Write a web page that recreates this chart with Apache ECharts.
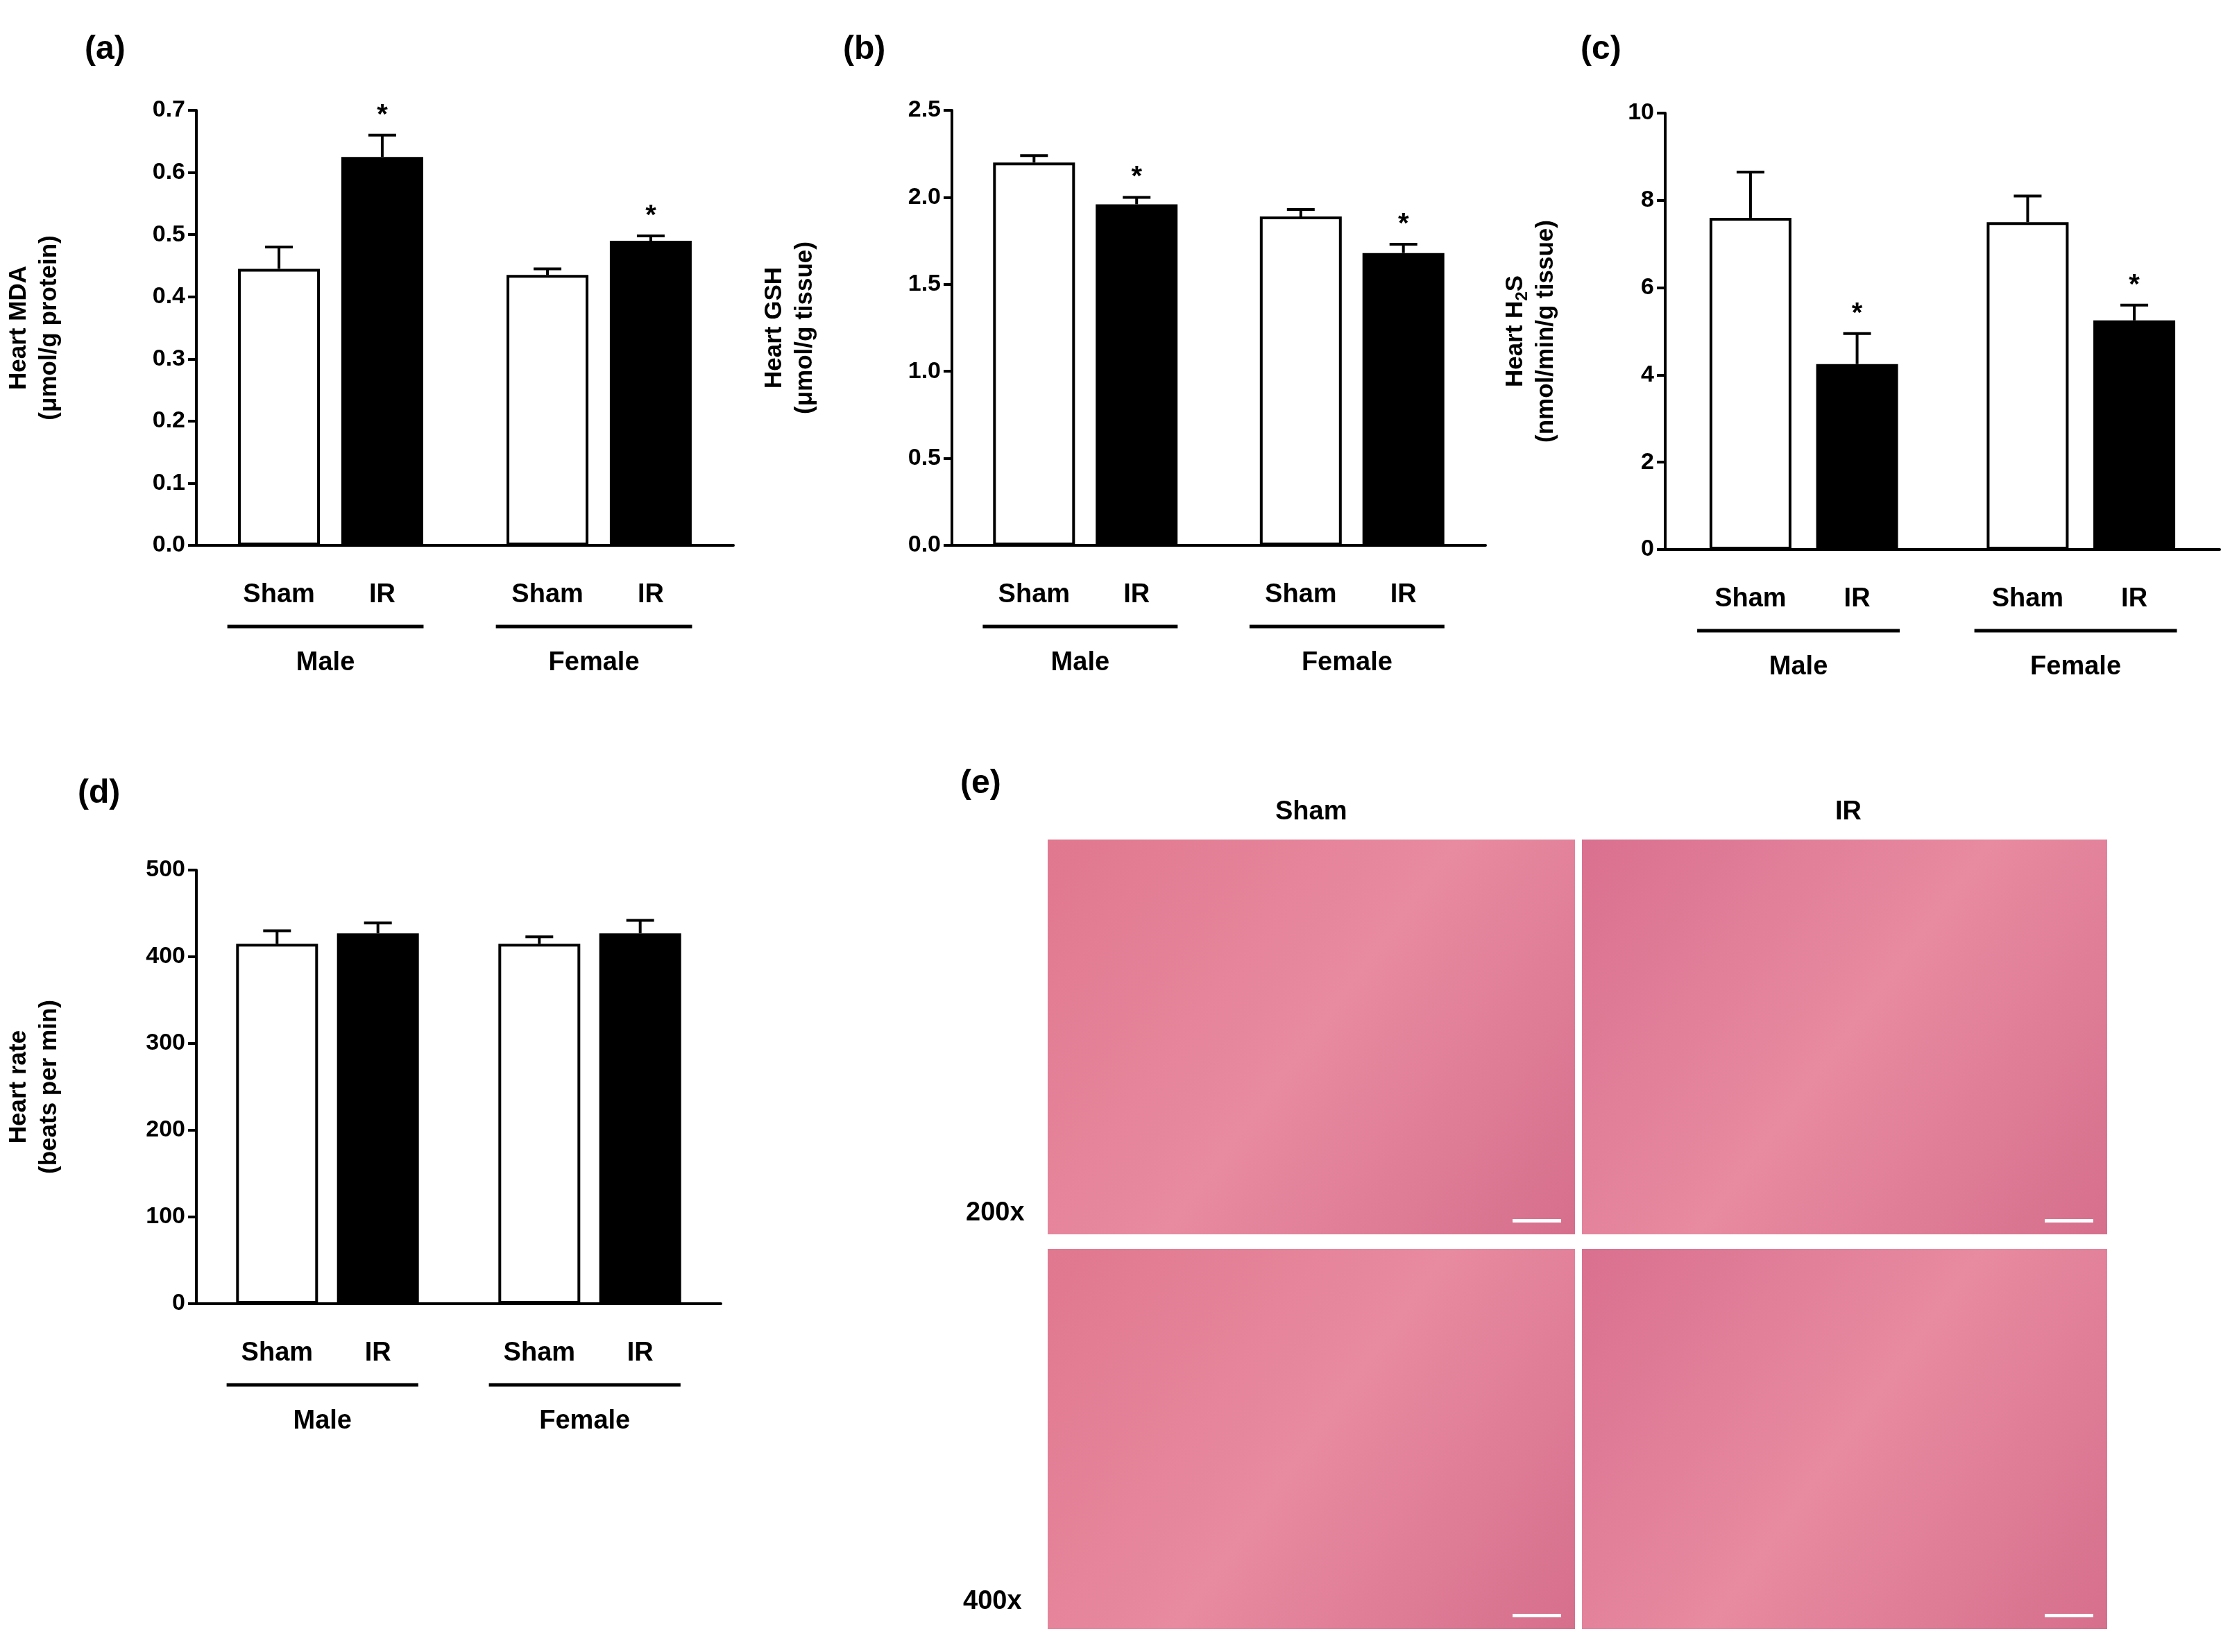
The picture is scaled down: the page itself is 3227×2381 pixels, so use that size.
<!DOCTYPE html><html><head><meta charset="utf-8">
<script src="https://cdn.jsdelivr.net/npm/echarts@6/dist/echarts.min.js"></script>
<style>html,body{margin:0;background:#fff}#c{width:3227px;height:2381px}</style></head><body><div id="c"></div>
<script>
const positions=[1,2,3.6,4.6];
const barLabels=['Sham','IR','Sham','IR'];
const groups=[[0.5,2.4,'Male'],[3.1,5.0,'Female']];
const mdaVals=[0.445,0.625,0.435,0.49], mdaErr=[0.035,0.035,0.01,0.008];
const gshVals=[2.2,1.96,1.89,1.68], gshErr=[0.04,0.04,0.04,0.05];
const h2sVals=[7.6,4.25,7.5,5.25], h2sErr=[1.05,0.7,0.6,0.35];
const hrVals=[415,427,415,427], hrErr=[15,12,8,15];
const stars=[false,true,false,true];
const panels=[
 {vals:mdaVals,err:mdaErr,max:0.7,iv:0.1,dec:1,star:true,name:'Heart MDA\n(μmol/g protein)',grid:{left:283,width:774,top:159,height:627}},
 {vals:gshVals,err:gshErr,max:2.5,iv:0.5,dec:1,star:true,name:'Heart GSH\n(μmol/g tissue)',grid:{left:1372,width:769,top:159,height:627}},
 {vals:h2sVals,err:h2sErr,max:10,iv:2,dec:0,star:true,name:'{t|Heart H}{s|2}{t|S}\n{t|(nmol/min/g tissue)}',grid:{left:2400,width:799,top:163,height:629}},
 {vals:hrVals,err:hrErr,max:500,iv:100,dec:0,star:false,name:'Heart rate\n(beats per min)',grid:{left:283,width:756,top:1254,height:625}}
];
const F='Liberation Sans, Arial, sans-serif';
const option={animation:false,grid:[],xAxis:[],yAxis:[],series:[],graphic:[]};
panels.forEach((p,i)=>{
 option.grid.push(p.grid);
 option.xAxis.push({gridIndex:i,type:'value',min:0.2,max:5.4,axisLine:{show:true,onZero:false,lineStyle:{color:'#000',width:4}},axisTick:{show:false},axisLabel:{show:false},splitLine:{show:false}});
 option.yAxis.push({gridIndex:i,type:'value',min:0,max:p.max,interval:p.iv,name:p.name,nameLocation:'middle',nameGap:i==2?150:190,
  nameTextStyle:{fontFamily:F,fontWeight:'bold',fontSize:35,color:'#000',lineHeight:44,rich:{t:{fontFamily:F,fontWeight:'bold',fontSize:35,color:'#000'},s:{fontFamily:F,fontWeight:'bold',fontSize:24,color:'#000',verticalAlign:'bottom',padding:[16,0,0,0]}}},
  axisLine:{show:true,lineStyle:{color:'#000',width:4}},axisTick:{show:true,length:12,lineStyle:{color:'#000',width:4}},
  axisLabel:{fontFamily:F,fontWeight:'bold',fontSize:34,color:'#000',margin:16,formatter:v=>v.toFixed(p.dec)},splitLine:{show:false}});
 const data=positions.map((x,k)=>({value:[x,p.vals[k]],itemStyle:{color:k%2?'#000':'#fff'}}));
 option.series.push({type:'bar',xAxisIndex:i,yAxisIndex:i,barWidth:118,data:data,itemStyle:{borderColor:'#000',borderWidth:4}});
 option.series.push({type:'custom',xAxisIndex:i,yAxisIndex:i,data:positions.map((x,k)=>[x,p.vals[k],p.err[k],p.star&&stars[k]?1:0]),z:5,
  renderItem:(params,api)=>{const top=api.coord([api.value(0),api.value(1)]);const e=api.coord([api.value(0),api.value(1)+api.value(2)]);
   const ch=[{type:'line',shape:{x1:top[0],y1:top[1],x2:e[0],y2:e[1]},style:{stroke:'#000',lineWidth:4}},
    {type:'line',shape:{x1:e[0]-20,y1:e[1],x2:e[0]+20,y2:e[1]},style:{stroke:'#000',lineWidth:4}}];
   if(api.value(3))ch.push({type:'text',style:{text:'*',x:e[0],y:e[1]-8,textAlign:'center',textVerticalAlign:'bottom',font:'bold 40px '+F,fill:'#000'}});
   return {type:'group',children:ch};}});
 option.series.push({type:'custom',xAxisIndex:i,yAxisIndex:i,clip:false,data:positions.map((x,k)=>[x,barLabels[k]]),
  renderItem:(params,api)=>{const c=api.coord([api.value(0),0]);return {type:'text',style:{text:barLabels[params.dataIndex],x:c[0],y:c[1]+72,textAlign:'center',textVerticalAlign:'middle',font:'bold 38px '+F,fill:'#000'}};}});
 option.series.push({type:'custom',xAxisIndex:i,yAxisIndex:i,clip:false,data:groups.map(g=>[g[0],g[1]]),
  renderItem:(params,api)=>{const a=api.coord([api.value(0),0]),b=api.coord([api.value(1),0]);
   return {type:'group',children:[{type:'line',shape:{x1:a[0],y1:a[1]+117,x2:b[0],y2:b[1]+117},style:{stroke:'#000',lineWidth:5}},
    {type:'text',style:{text:groups[params.dataIndex][2],x:(a[0]+b[0])/2,y:a[1]+170,textAlign:'center',textVerticalAlign:'middle',font:'bold 38px '+F,fill:'#000'}}]};}});
});
const lab=(t,x,y)=>({type:'text',left:x,top:y,style:{text:t,font:'bold 48px '+F,fill:'#000'}});
option.graphic.push(lab('(a)',122,48),lab('(b)',1215,48),lab('(c)',2278,48),lab('(d)',112,1120),lab('(e)',1384,1106));
const imgs=[[1510,1210,760,569],[2280,1210,757,569],[1510,1800,760,548],[2280,1800,757,548]];
imgs.forEach((r,k)=>{
 option.graphic.push({type:'rect',shape:{x:r[0],y:r[1],width:r[2],height:r[3]},style:{fill:new echarts.graphic.LinearGradient(0,0,1,1,[{offset:0,color:k%2?'#d9708f':'#e0788f'},{offset:0.5,color:'#e88aa0'},{offset:1,color:'#d66f8c'}])}});
 option.graphic.push({type:'rect',shape:{x:r[0]+r[2]-90,y:r[1]+r[3]-22,width:70,height:5},style:{fill:'#fff'}});
});
option.graphic.push(
 {type:'text',left:1838,top:1152,style:{text:'Sham',font:'bold 38px '+F,fill:'#000'}},
 {type:'text',left:2645,top:1152,style:{text:'IR',font:'bold 38px '+F,fill:'#000'}},
 {type:'text',left:1392,top:1730,style:{text:'200x',font:'bold 38px '+F,fill:'#000'}},
 {type:'text',left:1388,top:2290,style:{text:'400x',font:'bold 38px '+F,fill:'#000'}});
echarts.init(document.getElementById('c')).setOption(option);
</script></body></html>
